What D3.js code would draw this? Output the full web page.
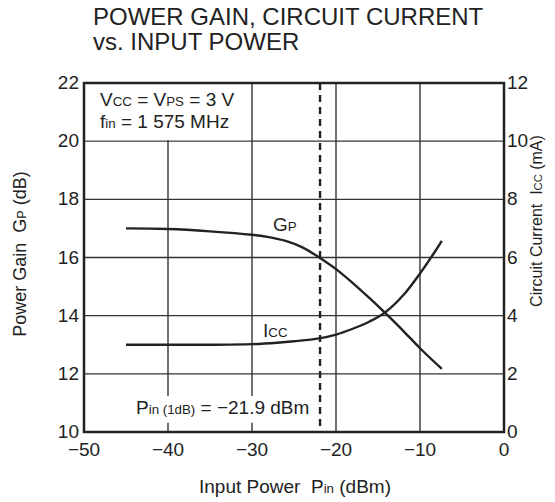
<!DOCTYPE html>
<html>
<head>
<meta charset="utf-8">
<script src="https://cdn.jsdelivr.net/npm/d3@7"></script>
<style>
  body { margin: 0; background: #fff; }
  svg { font-family: "Liberation Sans", Arial, sans-serif; }
</style>
</head>
<body>
<div id="chart"></div>
<script>
// data
var gpX = [-45, -40, -35, -30, -28, -26, -24, -22, -20, -18, -16, -14, -12, -10, -7.4];
var gpY = [17.0, 16.98, 16.9, 16.78, 16.7, 16.57, 16.35, 16.0, 15.6, 15.12, 14.6, 14.05, 13.48, 12.88, 12.17];
var iccX = [-45, -40, -35, -30, -27, -25, -22, -20, -18, -16, -14.2, -12, -10, -8, -7.4];
var iccY = [3.0, 3.0, 3.0, 3.02, 3.07, 3.12, 3.22, 3.35, 3.55, 3.8, 4.1, 4.7, 5.45, 6.3, 6.57];
var xTicks = [-50, -40, -30, -20, -10, 0];
var gpTicks = [10, 12, 14, 16, 18, 20, 22];
var iccTicks = [0, 2, 4, 6, 8, 10, 12];
var p1dB = -21.9;

var W = 555, H = 502;
var m = { left: 84, right: 51, top: 83, bottom: 70 };

var svg = d3.select("#chart").append("svg")
	.attr("width", W).attr("height", H);

var x = d3.scaleLinear().domain([-50, 0]).range([m.left, W - m.right]);
var yL = d3.scaleLinear().domain([10, 22]).range([H - m.bottom, m.top]);
var yR = d3.scaleLinear().domain([0, 12]).range([H - m.bottom, m.top]);

var ink = "#222";
var sp = "\u00a0\u00a0";

// title
var title = svg.append("text").attr("font-size", 24).attr("fill", ink);
title.append("tspan").attr("x", 93).attr("y", 25).text("POWER GAIN, CIRCUIT CURRENT");
title.append("tspan").attr("x", 93).attr("y", 50).text("vs. INPUT POWER");

// grid
var grid = svg.append("g").attr("stroke", "#333").attr("stroke-width", 1.4);
grid.selectAll("line.v").data(xTicks.slice(1, -1)).enter().append("line")
	.attr("x1", d => x(d)).attr("x2", d => x(d))
	.attr("y1", yL(22)).attr("y2", yL(10));
grid.selectAll("line.h").data(gpTicks.slice(1, -1)).enter().append("line")
	.attr("x1", x(-50)).attr("x2", x(0))
	.attr("y1", d => yL(d)).attr("y2", d => yL(d));

// white patches behind annotations
svg.append("rect")
	.attr("x", x(-50) + 1).attr("y", yL(22) + 1)
	.attr("width", x(-30) - x(-50) - 2).attr("height", yL(20) - yL(22) - 2)
	.attr("fill", "#fff");
svg.append("rect")
	.attr("x", 128).attr("y", yL(11.24))
	.attr("width", 186).attr("height", yL(10.32) - yL(11.24))
	.attr("fill", "#fff");

// frame
svg.append("rect")
	.attr("x", x(-50)).attr("y", yL(22))
	.attr("width", x(0) - x(-50)).attr("height", yL(10) - yL(22))
	.attr("fill", "none").attr("stroke", ink).attr("stroke-width", 2.5);

// P1dB marker
svg.append("line")
	.attr("x1", x(p1dB)).attr("x2", x(p1dB))
	.attr("y1", yL(22)).attr("y2", yL(10))
	.attr("stroke", ink).attr("stroke-width", 2.4)
	.attr("stroke-dasharray", "7,5");

// curves
var gpLine = d3.line().x(d => x(d[0])).y(d => yL(d[1])).curve(d3.curveCatmullRom.alpha(0.5));
var iccLine = d3.line().x(d => x(d[0])).y(d => yR(d[1])).curve(d3.curveCatmullRom.alpha(0.5));
svg.append("path").datum(d3.zip(gpX, gpY)).attr("d", gpLine)
	.attr("fill", "none").attr("stroke", ink).attr("stroke-width", 2.4);
svg.append("path").datum(d3.zip(iccX, iccY)).attr("d", iccLine)
	.attr("fill", "none").attr("stroke", ink).attr("stroke-width", 2.4);

// ticks
var fs = 19;
svg.append("g").selectAll("text").data(gpTicks).enter().append("text")
	.attr("x", x(-50) - 5).attr("y", d => yL(d) + 6)
	.attr("text-anchor", "end").attr("font-size", fs).attr("fill", ink)
	.text(d => d);
svg.append("g").selectAll("text").data(iccTicks).enter().append("text")
	.attr("x", x(0) + 3).attr("y", d => yR(d) + 6)
	.attr("text-anchor", "start").attr("font-size", fs).attr("fill", ink)
	.text(d => d);
svg.append("g").selectAll("text").data(xTicks).enter().append("text")
	.attr("x", d => x(d)).attr("y", yL(10) + 24)
	.attr("text-anchor", "middle").attr("font-size", fs).attr("fill", ink)
	.text(d => d < 0 ? "\u2212" + Math.abs(d) : d);

// helper for text with small-cap style subscripts
function rich(sel, parts) {
	parts.forEach(function(p) {
		var t = sel.append("tspan").text(p[0]);
		if (p[1]) t.attr("font-size", "0.7em");
	});
	return sel;
}

// axis titles
rich(svg.append("text").attr("x", 295).attr("y", 493)
	.attr("text-anchor", "middle").attr("font-size", fs).attr("fill", ink),
	[["Input Power" + sp + "P"], ["in", 1], [" (dBm)"]]);
rich(svg.append("text")
	.attr("transform", "translate(26," + 254 + ") rotate(-90)")
	.attr("text-anchor", "middle").attr("font-size", 18).attr("fill", ink),
	[["Power Gain" + sp + "G"], ["P", 1], [" (dB)"]]);
rich(svg.append("text")
	.attr("transform", "translate(542," + 221 + ") rotate(-90)")
	.attr("text-anchor", "middle").attr("font-size", 16).attr("fill", ink),
	[["Circuit Current" + sp + "I"], ["CC", 1], [" (mA)"]]);

// annotations
rich(svg.append("text").attr("x", 100).attr("y", 106).attr("font-size", fs).attr("fill", ink),
	[["V"], ["CC", 1], [" = V"], ["PS", 1], [" = 3 V"]]);
rich(svg.append("text").attr("x", 100).attr("y", 128).attr("font-size", fs).attr("fill", ink),
	[["f"], ["in", 1], [" = 1 575 MHz"]]);
rich(svg.append("text").attr("x", 136).attr("y", 414).attr("font-size", fs).attr("fill", ink),
	[["P"], ["in (1dB)", 1], [" = \u221221.9 dBm"]]);
rich(svg.append("text").attr("x", 273).attr("y", 231).attr("font-size", fs).attr("fill", ink),
	[["G"], ["P", 1]]);
rich(svg.append("text").attr("x", 263).attr("y", 337).attr("font-size", fs).attr("fill", ink),
	[["I"], ["CC", 1]]);
</script>
</body>
</html>
